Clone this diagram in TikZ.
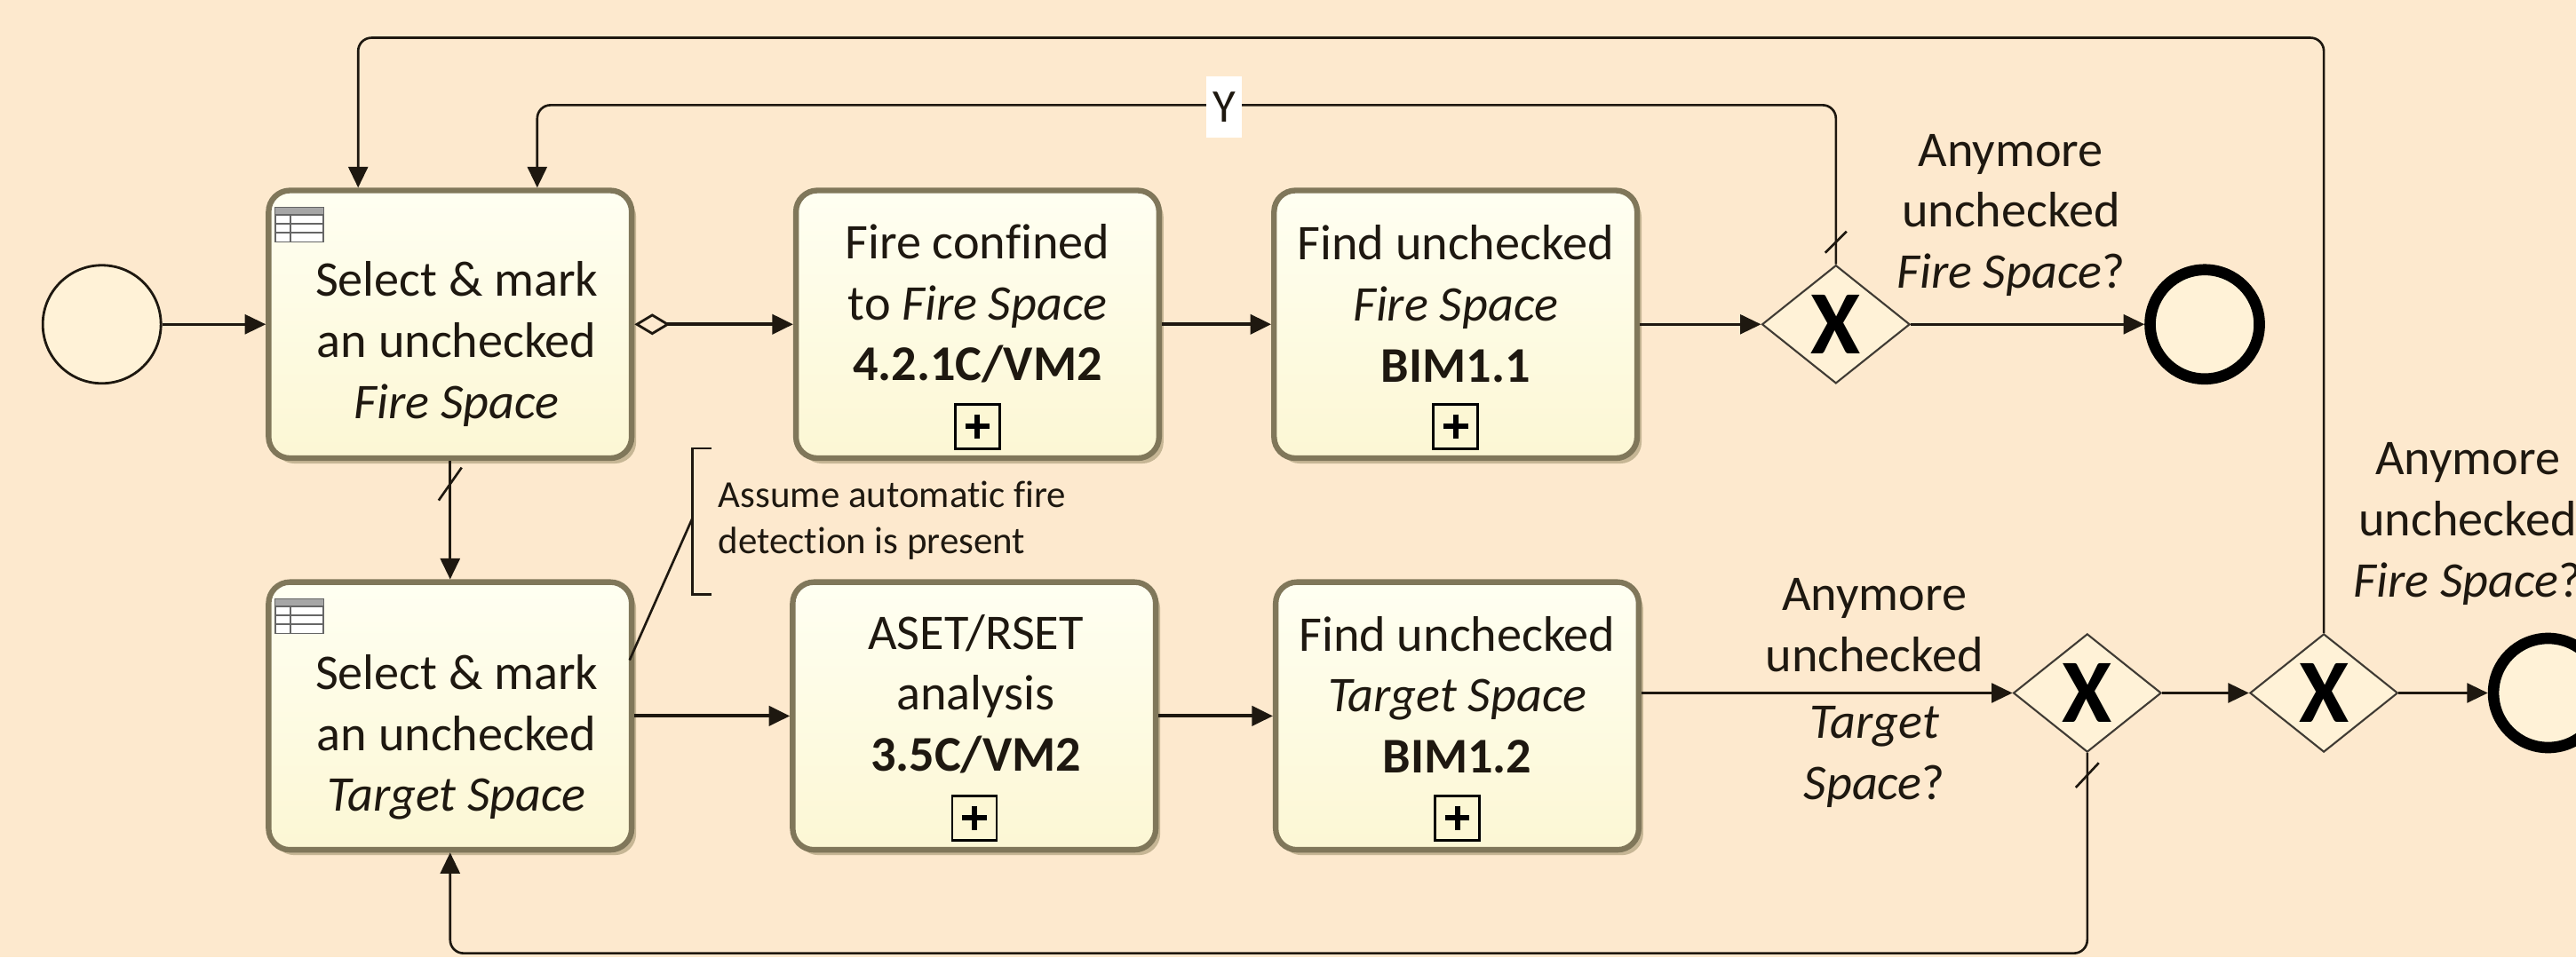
\documentclass[tikz,border=0pt]{standalone}
\usepackage{fontspec}
\setmainfont{Carlito}[Ligatures=NoCommon]
\usetikzlibrary{arrows.meta,shapes.geometric,calc,shadows}

\definecolor{bg}{RGB}{253,233,206}
\definecolor{boxfill}{RGB}{252,247,212}
\definecolor{boxtop}{RGB}{255,255,242}
\definecolor{boxedge}{RGB}{128,119,90}
\definecolor{shadowc}{RGB}{180,166,130}
\definecolor{ink}{RGB}{30,24,16}
\definecolor{gwfill}{RGB}{255,242,215}

\begin{document}
\begin{tikzpicture}[x=0.018495cm,y=-0.018495cm,
  task/.style={rectangle, rounded corners=0.24cm, minimum width=4.087cm, minimum height=3.015cm,
    inner sep=0pt, draw=boxedge, line width=1.8pt, top color=boxtop, bottom color=boxfill,
    drop shadow={shadow xshift=0.05cm, shadow yshift=-0.06cm, fill=shadowc, opacity=0.75}},
  txt/.style={align=center, font=\fontsize{16}{19.5}\selectfont, text=ink, inner sep=0pt},
  lbl/.style={align=center, font=\fontsize{16}{19.5}\selectfont, text=ink, inner sep=0pt},
  gw/.style={diamond, aspect=1.25, minimum width=1.665cm, minimum height=1.332cm, inner sep=0pt,
    draw=ink!85, line width=0.6pt, fill=gwfill, font=\fontsize{29}{29}\selectfont\bfseries},
  startev/.style={circle, minimum size=1.33cm, inner sep=0pt, draw=ink, line width=0.8pt, fill=gwfill},
  endev/.style={circle, minimum size=1.23cm, inner sep=0pt, draw=black, line width=3.6pt, fill=gwfill},
  plain/.style={draw=ink, line width=0.75pt},
  flow/.style={plain, -{Triangle[length=0.235cm,width=0.22cm]}},
  heavy/.style={draw=ink, line width=1.1pt, -{Triangle[length=0.235cm,width=0.22cm]}},
  cond/.style={draw=ink, line width=1.1pt, {Diamond[open,length=0.40cm,width=0.24cm,line width=0.8pt]}-{Triangle[length=0.235cm,width=0.22cm]}},
  tblicon/.pic={
    \draw[line width=0.5pt, draw=black!60, fill=white] (0,0) rectangle (29,21);
    \fill[black!35] (0,0) rectangle (29,4.5);
    \draw[line width=0.5pt, draw=black!60] (0,4.5) -- (29,4.5) (0,10) -- (29,10) (0,15.5) -- (29,15.5) (9,4.5) -- (9,21);
  },
  plusmark/.pic={
    \draw[line width=0.7pt, draw=black, fill=boxfill] (-13.5,-13.5) rectangle (13.5,13.5);
    \draw[line width=1.7pt, draw=black] (-7.5,0) -- (7.5,0) (0,-7.5) -- (0,7.5);
  }
]
\fill[bg] (0,0) rectangle (1568,583);
\useasboundingbox (0,0) rectangle (1568,583);
\clip (0,0) rectangle (1568,583);

% events and gateways
\node[startev] (start) at (62,197.5) {};
\node[gw] (g1) at (1117.5,197.5) {X};
\node[endev] (e1) at (1342,197.5) {};
\node[gw] (g2) at (1270.5,422) {X};
\node[gw] (g3) at (1414.5,422) {X};
\node[endev] (e2) at (1551,422) {};

% tasks
\node[task] (b1) at (274,197.5) {};
\node[task] (b2) at (595,197.5) {};
\node[task] (b3) at (886,197.5) {};
\node[task] (b4) at (274,436) {};
\node[task] (b5) at (593,436) {};
\node[task] (b6) at (887,436) {};

\pic at ($(b1.north west)+(6,12)$) {tblicon};
\pic at ($(b4.north west)+(6,12)$) {tblicon};
\pic at ($(b2.south)+(0,-21)$) {plusmark};
\pic at ($(b3.south)+(0,-21)$) {plusmark};
\pic at ($(b5.south)+(0,-21)$) {plusmark};
\pic at ($(b6.south)+(0,-21)$) {plusmark};

\node[txt] (t1) at ($(b1)+(4,12)$) {Select \& mark\\an unchecked\\\textit{Fire Space}};
\node[txt] (t2) at ($(b2)+(0,-12.5)$) {Fire confined\\to \textit{Fire Space}\\\textbf{4.2.1C/VM2}};
\node[txt] (t3) at ($(b3)+(0,-12.5)$) {Find unchecked\\\textit{Fire Space}\\\textbf{BIM1.1}};
\node[txt] (t4) at ($(b4)+(4,13)$) {Select \& mark\\an unchecked\\\textit{Target Space}};
\node[txt] (t5) at ($(b5)+(1,-13.5)$) {ASET/RSET\\analysis\\\textbf{3.5C/VM2}};
\node[txt] (t6) at ($(b6)+(0,-13)$) {Find unchecked\\\textit{Target Space}\\\textbf{BIM1.2}};

% labels
\node[lbl] (l1) at (1224,131) {Anymore\\unchecked\\\textit{Fire Space}?};
\node[lbl] (l2) at (1141,422) {Anymore\\unchecked\\[2pt]\textit{Target}\\\textit{Space}?};
\node[lbl] (l3) at (1502,319) {Anymore\\unchecked\\\textit{Fire Space}?};

% annotation
\draw[plain] (433,273) -- (421.5,273) -- (421.5,362) -- (433,362);
\coordinate (ann) at (421.5,315.5);
\node[anchor=west, align=left, font=\fontsize{12.2}{15}\selectfont, text=ink, inner sep=0pt] (anntext) at (437,317) {Assume automatic fire\\detection is present};
\draw[plain] ($(b4.east)+(-3,-34)$) -- (ann);

% sequence flows
\draw[flow] (start) -- (b1);
\draw[cond] (b1) -- (b2);
\draw[heavy] (b2) -- (b3);
\draw[flow] (b3) -- (g1);
\draw[flow] (g1) -- (e1);
\draw[flow] (b1) -- (b4);
\draw[heavy] (b4) -- (b5);
\draw[heavy] (b5) -- (b6);
\draw[flow] (b6.east |- g2) -- (g2);
\draw[flow] (g2) -- (g3);
\draw[flow] (g3) -- (e2);

% loops
\coordinate (top1) at (0,23);
\coordinate (top2) at (0,64);
\coordinate (bot) at (0,580.5);
\draw[flow, rounded corners=0.15cm] (g3.north) -- (g3.north |- top1) -| ($(b1.north)+(-56,0)$);
\draw[flow, rounded corners=0.15cm] (g1.north) -- (g1.north |- top2) -| ($(b1.north)+(53,0)$);
\draw[flow, rounded corners=0.15cm] (g2.south) -- (g2.south |- bot) -| (b4.south);
\node[fill=white, inner xsep=2pt, inner ysep=5pt, font=\fontsize{15}{15}\selectfont, text=ink] (ylab) at (745,65) {Y};

% default-flow slashes
\draw[plain] ($(b1.south)+(-7,24)$) -- ++(14,-20);
\draw[plain] ($(g1.north)+(-6.5,-7)$) -- ++(13,-13);
\draw[plain] ($(g2.south)+(-7,21)$) -- ++(14,-15);
\end{tikzpicture}
\end{document}
